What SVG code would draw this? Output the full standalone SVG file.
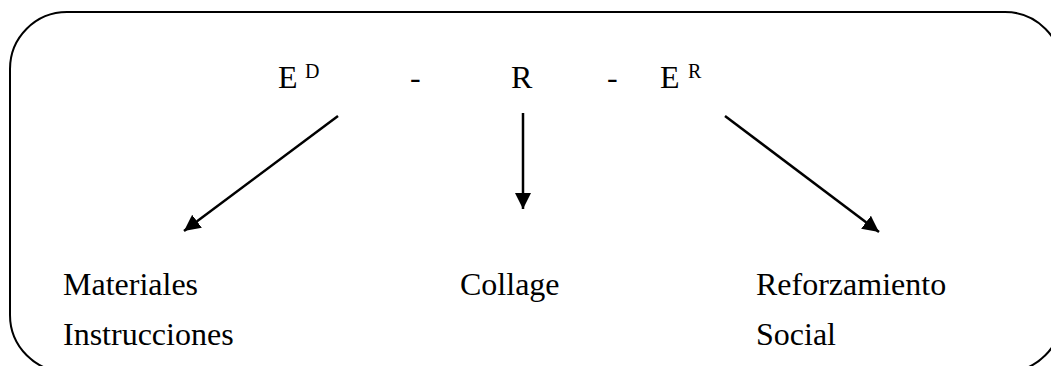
<svg xmlns="http://www.w3.org/2000/svg" width="1051" height="366" viewBox="0 0 1051 366">
<style>
.t{font-family:'Liberation Serif','Times New Roman',serif;font-size:32px;fill:#000}
.s{font-family:'Liberation Serif','Times New Roman',serif;font-size:20px;fill:#000}
.c{stroke:#000;stroke-width:2.5;fill:none}
</style>
<defs>
<marker id="ah" viewBox="0 0 10 10" refX="10" refY="5" markerWidth="6.5" markerHeight="6.5" markerUnits="strokeWidth" orient="auto">
<path d="M0,0 L10,5 L0,10 z" fill="#000"/>
</marker>
</defs>
<rect x="10" y="12" width="1052" height="360" rx="57" ry="57" fill="none" stroke="#000" stroke-width="2"/>
<g id="formula">
<text class="t" x="278" y="88">E</text><text class="s" x="305" y="78">D</text>
<text class="t" x="410" y="88">-</text>
<text class="t" x="511" y="88">R</text>
<text class="t" x="607" y="88">-</text>
<text class="t" x="660" y="88">E</text><text class="s" x="688" y="78">R</text>
</g>
<g id="left"><text class="t" x="63" y="295">Materiales</text><text class="t" x="63" y="345">Instrucciones</text></g>
<g id="mid"><text class="t" x="460" y="295">Collage</text></g>
<g id="right"><text class="t" x="756" y="295">Reforzamiento</text><text class="t" x="756" y="345">Social</text></g>
<g id="connectors">
<line class="c" x1="338" y1="116" x2="184" y2="231" marker-end="url(#ah)"/>
<line class="c" x1="523" y1="113" x2="523" y2="209" marker-end="url(#ah)"/>
<line class="c" x1="725" y1="116" x2="879" y2="232" marker-end="url(#ah)"/>
</g>
</svg>
